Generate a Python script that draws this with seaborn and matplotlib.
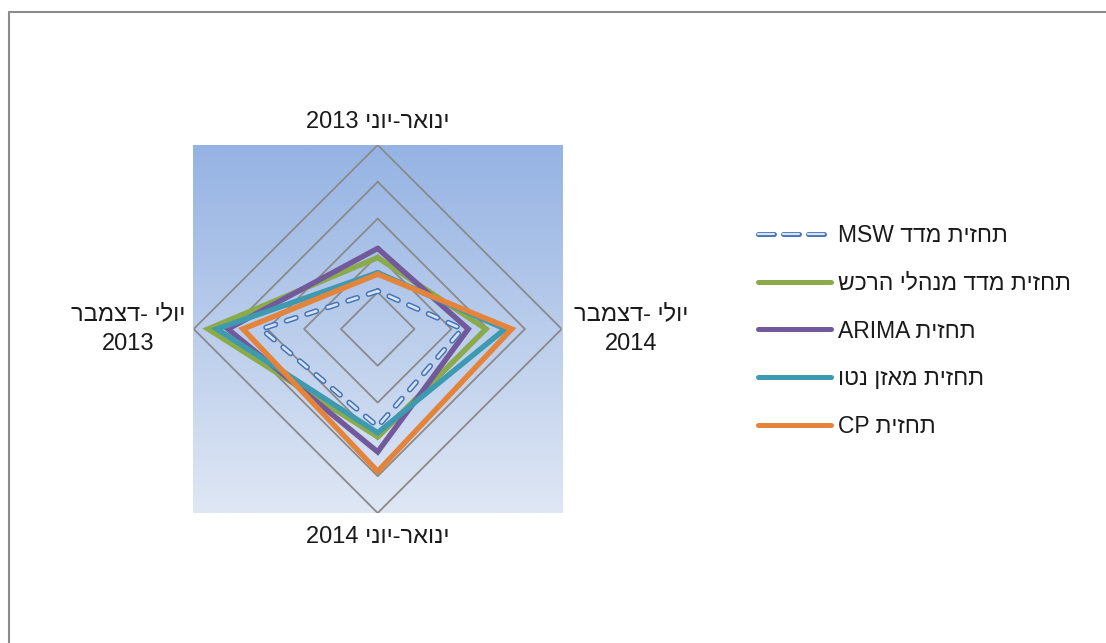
import re
import numpy as np
import matplotlib
matplotlib.use("Agg")
import matplotlib.pyplot as plt
import seaborn as sns
from matplotlib.lines import Line2D
from matplotlib.colors import LinearSegmentedColormap

sns.set_style("white")
plt.rcParams["font.family"] = ["Liberation Sans", "DejaVu Sans"]
plt.rcParams["lines.scale_dashes"] = False

# categories go counter-clockwise from the top (RTL chart)
categories = ["ינואר-יוני 2013", "יולי -דצמבר\n2013", "ינואר-יוני 2014", "יולי -דצמבר\n2014"]
series_names = ["תחזית מדד MSW", "תחזית מדד מנהלי הרכש", "תחזית ARIMA", "תחזית מאזן נטו", "תחזית CP"]

msw = [1.03, 3.16, 2.65, 2.30]
pmi = [1.94, 4.61, 2.93, 2.94]
arima = [2.19, 4.07, 3.34, 2.46]
net_balance = [1.53, 4.37, 2.82, 3.46]
cp = [1.49, 3.66, 3.87, 3.64]
rings = [1, 2, 3, 4, 5]

blue, light = "#4676b6", "#d8e3f3"
colors = ["#8bab4b", "#72599b", "#3d9ab0", "#e4843a"]
grid_color = "#8a8a8a"


def visual(s):
    # matplotlib has no bidi support: put Hebrew lines into display order
    lines = []
    for line in s.split("\n"):
        rev = line[::-1]
        rev = re.sub(r"[A-Za-z0-9]+", lambda m: m.group(0)[::-1], rev)
        lines.append(rev)
    return "\n".join(lines)


W, H = 1106, 643
fig = plt.figure(figsize=(W / 100, H / 100), dpi=100)

# gradient plot area
bg = fig.add_axes([193 / W, (H - 513) / H, 369 / W, 368 / H])
cmap = LinearSegmentedColormap.from_list("bg", ["#95b3e3", "#dfe7f4"])
bg.imshow(np.linspace(0, 1, 256).reshape(-1, 1), cmap=cmap, aspect="auto")
bg.axis("off")

ax = fig.add_axes([193.7 / W, (H - 513) / H, 368 / W, 368 / H], projection="polar")
ax.patch.set_alpha(0)
ax.set_theta_zero_location("N")
ax.set_theta_direction(1)
ax.set_ylim(0, 5)
ax.grid(False)
ax.set_xticks([])
ax.set_yticks([])
ax.spines["polar"].set_visible(False)

theta = np.arange(len(categories)) * 2 * np.pi / len(categories)
theta_c = np.r_[theta, theta[:1]]

for r in rings:
    ax.plot(theta_c, [r] * len(theta_c), color=grid_color, lw=1.3, zorder=1)

for vals, col in zip([pmi, arima, net_balance, cp], colors):
    sns.lineplot(x=theta_c, y=np.r_[vals, vals[:1]], sort=False, estimator=None, ax=ax,
                 color=col, lw=3.9, solid_joinstyle="miter", zorder=2)

dash_plot = (0, (7, 8.5))
sns.lineplot(x=theta_c, y=np.r_[msw, msw[:1]], sort=False, estimator=None, ax=ax,
             color=blue, lw=4.1, linestyle=dash_plot, dash_capstyle="round", zorder=3)
sns.lineplot(x=theta_c, y=np.r_[msw, msw[:1]], sort=False, estimator=None, ax=ax,
             color=light, lw=1.9, linestyle=dash_plot, dash_capstyle="round", zorder=3)

ax.set_xlabel("")
ax.set_ylabel("")

label_r = [5.63, 6.78, 5.66, 6.88]
for t, r, cat in zip(theta, label_r, categories):
    ax.text(t, r, visual(cat), ha="center", va="center", fontsize=17,
            linespacing=1.5, clip_on=False, color="#1a1a1a")

# legend
dash_leg = (0, (11.5, 6.5))
handles = [(Line2D([], [], color=blue, lw=3.6, linestyle=dash_leg, dash_capstyle="round"),
            Line2D([], [], color=light, lw=1.6, linestyle=dash_leg, dash_capstyle="round"))]
handles += [Line2D([], [], color=c, lw=3.6, solid_capstyle="round") for c in colors]
fig.legend(handles, [visual(n) for n in series_names], loc="upper left",
           bbox_to_anchor=(758 / W, 1 - 224 / H), frameon=False, fontsize=16.5,
           handlelength=3.2, handletextpad=0.27, labelspacing=1.08,
           borderaxespad=0, borderpad=0, labelcolor="#1a1a1a")

# chart border (only left and top edges are inside the picture)
fig.add_artist(Line2D([8.5 / W, 8.5 / W], [0, 1 - 11.5 / H], transform=fig.transFigure,
                      color="#8c8c8c", lw=1.5))
fig.add_artist(Line2D([8.5 / W, 1], [1 - 11.5 / H, 1 - 11.5 / H], transform=fig.transFigure,
                      color="#8c8c8c", lw=1.5))

fig.savefig("out.png", dpi=100)
